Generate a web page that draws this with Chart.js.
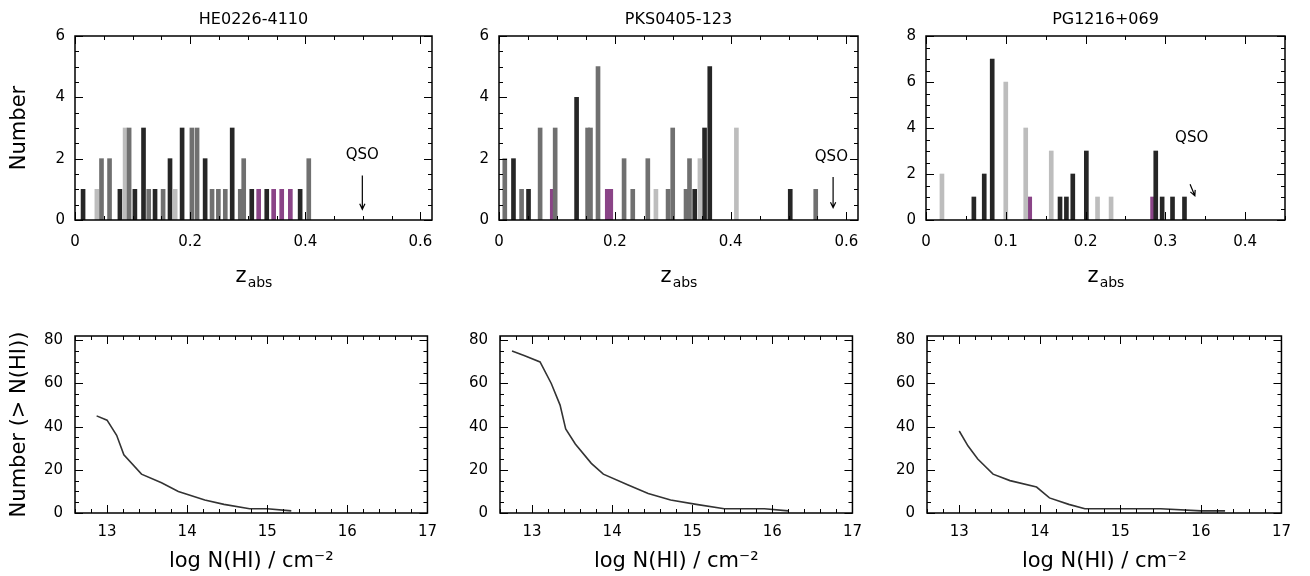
<!DOCTYPE html>
<html>
<head>
<meta charset="utf-8">
<script src="https://cdn.jsdelivr.net/npm/chart.js@4.4.1/dist/chart.umd.min.js"></script>
<style>
  html, body { margin: 0; padding: 0; background: #fff; }
  #page { position: relative; width: 1310px; height: 576px; overflow: hidden; }
  #page canvas { position: absolute; }
</style>
</head>
<body>
<div id="page">
  <canvas id="c1"></canvas>
  <canvas id="c2"></canvas>
  <canvas id="c3"></canvas>
  <canvas id="c4"></canvas>
  <canvas id="c5"></canvas>
  <canvas id="c6"></canvas>
</div>
<script>
// sight lines and emission redshifts of the background QSOs
const names = ["HE0226-4110", "PKS0405-123", "PG1216+069"]
const qsoZ = [0.499, 0.577, 0.333]

// tick labels
const zTicksWide = [0, 0.2, 0.4, 0.6]
const zTicksNarrow = [0, 0.1, 0.2, 0.3, 0.4]
const countTicks6 = [0, 2, 4, 6]
const countTicks8 = [0, 2, 4, 6, 8]
const logNTicks = [13, 14, 15, 16, 17]
const cumTicks = [0, 20, 40, 60, 80]

// HE0226-4110 absorber redshifts (z_abs) and number per bin
const heDarkZ = [0.014, 0.078, 0.104, 0.119, 0.139, 0.165, 0.186, 0.226, 0.273, 0.307, 0.333, 0.391]
const heDarkN = [1, 1, 1, 3, 1, 2, 3, 2, 3, 1, 1, 1]
const heGrayZ = [0.046, 0.060, 0.094, 0.128, 0.153, 0.203, 0.212, 0.238, 0.249, 0.261, 0.287, 0.293, 0.406]
const heGrayN = [2, 2, 3, 1, 1, 3, 3, 1, 1, 1, 1, 2, 2]
const heLightZ = [0.038, 0.087, 0.174]
const heLightN = [1, 3, 1]
const hePinkZ = [0.319, 0.345, 0.359, 0.374]
const hePinkN = [1, 1, 1, 1]

// PKS0405-123
const pksDarkZ = [0.025, 0.051, 0.134, 0.338, 0.355, 0.364, 0.503]
const pksDarkN = [2, 1, 4, 1, 3, 5, 1]
const pksGrayZ = [0.010, 0.039, 0.071, 0.097, 0.153, 0.158, 0.171, 0.216, 0.231, 0.257, 0.292, 0.300, 0.323, 0.329, 0.547]
const pksGrayN = [2, 1, 3, 3, 3, 3, 5, 2, 1, 2, 1, 3, 1, 2, 1]
const pksLightZ = [0.271, 0.347, 0.410]
const pksLightN = [1, 2, 3]
const pksPinkZ = [0.092, 0.187, 0.193]
const pksPinkN = [1, 1, 1]

// PG1216+069
const pgDarkZ = [0.060, 0.073, 0.083, 0.168, 0.176, 0.184, 0.201, 0.288, 0.296, 0.309, 0.324]
const pgDarkN = [1, 2, 7, 1, 1, 2, 3, 3, 1, 1, 1]
const pgLightZ = [0.020, 0.100, 0.125, 0.157, 0.215, 0.232]
const pgLightN = [2, 6, 4, 3, 1, 1]
const pgPinkZ = [0.130, 0.284]
const pgPinkN = [1, 1]

// cumulative column density distributions, Number(> N(HI))
const heLogN = [12.87, 13.0, 13.12, 13.21, 13.43, 13.68, 13.89, 14.22, 14.46, 14.78, 15.0, 15.3]
const heCum = [45, 43, 36, 27, 18, 14, 10, 6, 4, 2, 2, 1]
const pksLogN = [12.75, 12.9, 13.1, 13.24, 13.35, 13.42, 13.54, 13.74, 13.89, 14.2, 14.45, 14.73, 15.05, 15.4, 15.9, 16.2]
const pksCum = [75, 73, 70, 60, 50, 39, 32, 23, 18, 13, 9, 6, 4, 2, 2, 1]
const pgLogN = [13.0, 13.11, 13.23, 13.42, 13.63, 13.96, 14.12, 14.36, 14.56, 15.0, 15.5, 16.0, 16.3]
const pgCum = [38, 31, 25, 18, 15, 12, 7, 4, 2, 2, 2, 1, 1]

const DARK = '#262626', GRAY = '#707070', LIGHT = '#bdbdbd', PINK = '#8a4487'

Chart.defaults.font.family = '"DejaVu Sans", "Liberation Sans", sans-serif'
Chart.defaults.color = '#000'

const pts = (xs, ys) => xs.map((v, i) => ({x: v, y: ys[i]}))

// frame with inward major and minor ticks on all four sides
const frameTicks = {
  id: 'frameTicks',
  afterDatasetsDraw(chart, args, o) {
    const {ctx, chartArea: a} = chart
    const sx = chart.scales.x, sy = chart.scales.y
    const isMajor = (s, v) => s.ticks.some(t => Math.abs(t.value - v) < 1e-6)
    const steps = (s, step) => {
      const out = []
      const n0 = Math.ceil(s.min / step - 1e-6)
      for (let i = n0; i * step <= s.max + 1e-9; i++) out.push(i * step)
      return out
    }
    ctx.save()
    ctx.strokeStyle = '#000'
    ctx.lineWidth = 1
    ctx.beginPath()
    for (const v of steps(sx, o.xMinor)) {
      const p = Math.round(sx.getPixelForValue(v)) + 0.5
      const len = isMajor(sx, v) ? 8 : 4
      ctx.moveTo(p, a.bottom); ctx.lineTo(p, a.bottom - len)
      ctx.moveTo(p, a.top); ctx.lineTo(p, a.top + len)
    }
    for (const v of steps(sy, o.yMinor)) {
      const p = Math.round(sy.getPixelForValue(v)) + 0.5
      const len = isMajor(sy, v) ? 8 : 4
      ctx.moveTo(a.left, p); ctx.lineTo(a.left + len, p)
      ctx.moveTo(a.right, p); ctx.lineTo(a.right - len, p)
    }
    ctx.stroke()
    ctx.lineWidth = 1.5
    ctx.strokeRect(a.left, a.top, a.right - a.left, a.bottom - a.top)
    ctx.restore()
  }
}

// "QSO" label with an arrow pointing at the emission redshift
const qsoMark = {
  id: 'qsoMark',
  afterDatasetsDraw(chart, args, o) {
    if (!o || o.z == null) return
    const {ctx} = chart
    const sx = chart.scales.x, sy = chart.scales.y
    ctx.save()
    ctx.font = '15px "DejaVu Sans"'
    ctx.fillStyle = '#000'
    ctx.textAlign = 'center'
    ctx.textBaseline = 'middle'
    ctx.fillText('QSO', sx.getPixelForValue(o.z + o.textDz), sy.getPixelForValue(o.textY))
    const x0 = sx.getPixelForValue(o.z - o.tilt), y0 = sy.getPixelForValue(o.from)
    const x1 = sx.getPixelForValue(o.z), y1 = sy.getPixelForValue(o.to)
    const ang = Math.atan2(y1 - y0, x1 - x0)
    ctx.strokeStyle = '#000'
    ctx.lineWidth = 1.2
    ctx.beginPath()
    ctx.moveTo(x0, y0); ctx.lineTo(x1, y1)
    ctx.moveTo(x1 - 6 * Math.cos(ang - 0.45), y1 - 6 * Math.sin(ang - 0.45))
    ctx.lineTo(x1, y1)
    ctx.lineTo(x1 - 6 * Math.cos(ang + 0.45), y1 - 6 * Math.sin(ang + 0.45))
    ctx.stroke()
    ctx.restore()
  }
}

// z_abs axis label with a subscript
const zLabel = {
  id: 'zLabel',
  afterDraw(chart, args, o) {
    if (!o || !o.show) return
    const {ctx, chartArea: a} = chart
    const cx = (a.left + a.right) / 2, cy = a.bottom + o.dy
    ctx.save()
    ctx.fillStyle = '#000'
    ctx.textBaseline = 'alphabetic'
    ctx.font = '21px "DejaVu Sans"'
    const w1 = ctx.measureText('z').width
    ctx.font = '14px "DejaVu Sans"'
    const w2 = ctx.measureText('abs').width
    const x0 = cx - (w1 + w2) / 2
    ctx.font = '21px "DejaVu Sans"'
    ctx.fillText('z', x0, cy + 7)
    ctx.font = '14px "DejaVu Sans"'
    ctx.fillText('abs', x0 + w1 + 1, cy + 12)
    ctx.restore()
  }
}

function scalesFor(p) {
  const fixTicks = list => s => { s.ticks = list.map(v => ({value: v})) }
  return {
    x: {
      type: 'linear', min: p.xMin, max: p.xMax, offset: false,
      afterBuildTicks: fixTicks(p.xTicks),
      afterFit: s => { s.height = p.pad.b },
      grid: {display: false, drawTicks: false, offset: false},
      border: {display: false},
      ticks: {padding: p.xTickPad, font: {size: 15}, maxRotation: 0, autoSkip: false, callback: v => String(v)},
      title: p.xTitle ? {display: true, text: p.xTitle, font: {size: 21}, padding: {top: 0, bottom: 2}} : {display: false}
    },
    x2: {
      type: 'linear', position: 'top',
      afterFit: s => { s.height = p.pad.t },
      grid: {display: false, drawTicks: false},
      border: {display: false},
      ticks: {display: false},
      title: p.name ? {display: true, text: p.name, font: {size: 16}, padding: {top: 10, bottom: 0}} : {display: false}
    },
    y: {
      type: 'linear', min: 0, max: p.yMax,
      afterBuildTicks: fixTicks(p.yTicks),
      afterFit: s => { s.width = p.pad.l },
      grid: {display: false, drawTicks: false},
      border: {display: false},
      ticks: {padding: p.yTickPad, font: {size: 15}, autoSkip: false, callback: v => String(v)},
      title: p.yTitle ? {display: true, text: p.yTitle, font: {size: 21}, padding: {top: 2, bottom: 0}} : {display: false}
    },
    y2: {
      type: 'linear', position: 'right',
      afterFit: s => { s.width = p.pad.r },
      grid: {display: false, drawTicks: false},
      border: {display: false},
      ticks: {display: false}
    }
  }
}

function place(canvas, plot, pad) {
  const w = pad.l + (plot.right - plot.left) + pad.r
  const h = pad.t + (plot.bottom - plot.top) + pad.b
  canvas.width = w
  canvas.height = h
  canvas.style.left = (plot.left - pad.l) + 'px'
  canvas.style.top = (plot.top - pad.t) + 'px'
}

const bars = (label, z, n, color) => ({
  label, data: pts(z, n), backgroundColor: color,
  barThickness: 4, grouped: false, borderWidth: 0
})

function histogram(id, p) {
  const canvas = document.getElementById(id)
  place(canvas, p.plot, p.pad)
  new Chart(canvas, {
    type: 'bar',
    data: {datasets: p.sets},
    options: {
      responsive: false, animation: false, devicePixelRatio: 1,
      layout: {padding: 0},
      plugins: {
        legend: {display: false}, tooltip: {enabled: false},
        frameTicks: {xMinor: p.xMinor, yMinor: 0.5},
        qsoMark: p.qso,
        zLabel: {show: true, dy: 55}
      },
      scales: scalesFor(p)
    },
    plugins: [frameTicks, qsoMark, zLabel]
  })
}

function cumulative(id, p) {
  const canvas = document.getElementById(id)
  place(canvas, p.plot, p.pad)
  new Chart(canvas, {
    type: 'line',
    data: {datasets: [{
      data: pts(p.logN, p.cum), borderColor: '#333', borderWidth: 1.6,
      pointRadius: 0, tension: 0, fill: false
    }]},
    options: {
      responsive: false, animation: false, devicePixelRatio: 1,
      layout: {padding: 0},
      plugins: {
        legend: {display: false}, tooltip: {enabled: false},
        frameTicks: {xMinor: 0.2, yMinor: 5}
      },
      scales: scalesFor(p)
    },
    plugins: [frameTicks]
  })
}

const topPad = {l: 70, r: 14, t: 36, b: 70}
const botPad = {l: 70, r: 14, t: 12, b: 63}

histogram('c1', {
  name: names[0], plot: {left: 75, right: 432, top: 36, bottom: 220}, pad: topPad,
  xMin: 0, xMax: 0.62, xTicks: zTicksWide, xMinor: 0.05, yMax: 6, yTicks: countTicks6,
  xTickPad: 13, yTickPad: 10, yTitle: 'Number',
  qso: {z: qsoZ[0], textDz: 0, textY: 2.1, from: 1.45, to: 0.35, tilt: 0},
  sets: [bars('gray', heGrayZ, heGrayN, GRAY), bars('light', heLightZ, heLightN, LIGHT),
         bars('dark', heDarkZ, heDarkN, DARK), bars('pink', hePinkZ, hePinkN, PINK)]
})
histogram('c2', {
  name: names[1], plot: {left: 499, right: 858, top: 36, bottom: 220}, pad: topPad,
  xMin: 0, xMax: 0.62, xTicks: zTicksWide, xMinor: 0.05, yMax: 6, yTicks: countTicks6,
  xTickPad: 13, yTickPad: 10,
  qso: {z: qsoZ[1], textDz: -0.003, textY: 2.05, from: 1.4, to: 0.4, tilt: 0},
  sets: [bars('gray', pksGrayZ, pksGrayN, GRAY), bars('light', pksLightZ, pksLightN, LIGHT),
         bars('dark', pksDarkZ, pksDarkN, DARK), bars('pink', pksPinkZ, pksPinkN, PINK)]
})
histogram('c3', {
  name: names[2], plot: {left: 926, right: 1285, top: 36, bottom: 220}, pad: topPad,
  xMin: 0, xMax: 0.45, xTicks: zTicksNarrow, xMinor: 0.05, yMax: 8, yTicks: countTicks8,
  xTickPad: 13, yTickPad: 10,
  qso: {z: qsoZ[2] + 0.004, textDz: -0.004, textY: 3.55, from: 1.55, to: 1.05, tilt: 0.006},
  sets: [bars('light', pgLightZ, pgLightN, LIGHT), bars('dark', pgDarkZ, pgDarkN, DARK),
         bars('pink', pgPinkZ, pgPinkN, PINK)]
})

const logNLabel = 'log N(HI) / cm⁻²'
cumulative('c4', {
  plot: {left: 75, right: 433, top: 327, bottom: 513}, pad: botPad,
  xMin: 12.6, xMax: 17, xTicks: logNTicks, yMax: 82, yTicks: cumTicks,
  xTickPad: 10, yTickPad: 12, xTitle: logNLabel, yTitle: 'Number (> N(HI))',
  logN: heLogN, cum: heCum
})
cumulative('c5', {
  plot: {left: 500, right: 858, top: 327, bottom: 513}, pad: botPad,
  xMin: 12.6, xMax: 17, xTicks: logNTicks, yMax: 82, yTicks: cumTicks,
  xTickPad: 10, yTickPad: 12, xTitle: logNLabel,
  logN: pksLogN, cum: pksCum
})
cumulative('c6', {
  plot: {left: 927, right: 1287, top: 327, bottom: 513}, pad: botPad,
  xMin: 12.6, xMax: 17, xTicks: logNTicks, yMax: 82, yTicks: cumTicks,
  xTickPad: 10, yTickPad: 12, xTitle: logNLabel,
  logN: pgLogN, cum: pgCum
})
</script>
</body>
</html>
